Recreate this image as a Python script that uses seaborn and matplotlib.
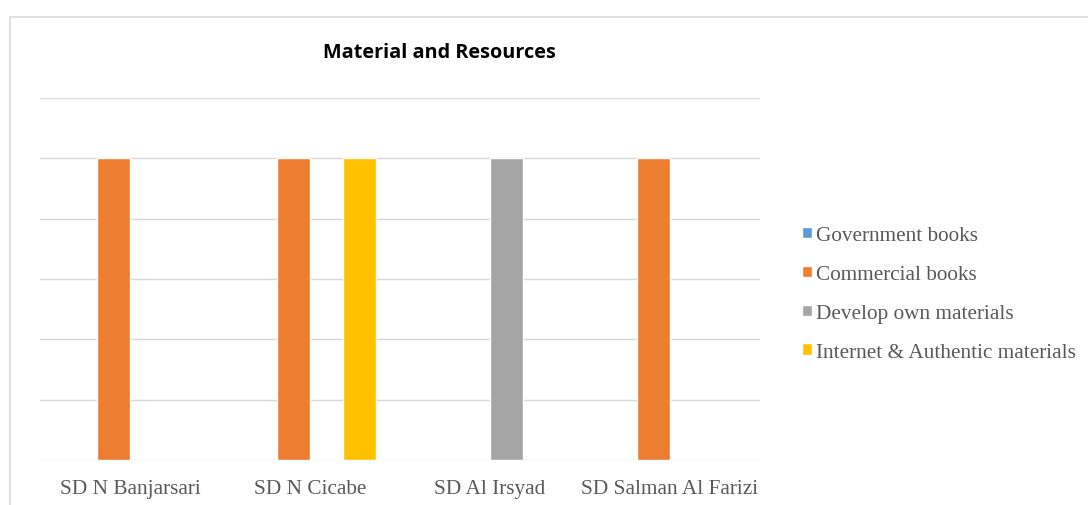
import matplotlib
matplotlib.use("Agg")
import matplotlib.pyplot as plt
import seaborn as sns
import pandas as pd
from matplotlib.patches import Rectangle

schools = ["SD N Banjarsari", "SD N Cicabe", "SD Al Irsyad", "SD Salman Al Farizi"]
series = ["Government books", "Commercial books", "Develop own materials", "Internet & Authentic materials"]
government_books = [0, 0, 0, 0]
commercial_books = [1, 1, 0, 1]
develop_own = [0, 0, 1, 0]
internet_authentic = [0, 1, 0, 0]
colors = ["#5B9BD5", "#ED7D31", "#A5A5A5", "#FFC000"]

rows = []
for name, vals in zip(series, [government_books, commercial_books, develop_own, internet_authentic]):
    for s, v in zip(schools, vals):
        rows.append({"School": s, "Material": name, "Value": v})
df = pd.DataFrame(rows)

sns.set_style("white")
fig = plt.figure(figsize=(10.88, 5.06), dpi=100)
ax = fig.add_axes([40/1088, 1-461/506, 720/1088, 362/506])

sns.barplot(data=df, x="School", y="Value", hue="Material", hue_order=series,
            palette=colors, width=0.733, ax=ax, legend=True, saturation=1)

ax.set_ylim(0, 1.2)
ax.set_xlim(-0.5, 3.5)
ax.set_yticks([0, 0.2, 0.4, 0.6, 0.8, 1.0, 1.2])
ax.set_yticklabels([])
ax.tick_params(axis="y", length=0)
ax.tick_params(axis="x", length=0, pad=14)
ax.yaxis.grid(True, color="#D9D9D9", linewidth=1)
ax.set_axisbelow(True)
for sp in ax.spines.values():
    sp.set_visible(False)
ax.set_xlabel("")
ax.set_ylabel("")
for lbl in ax.get_xticklabels():
    lbl.set_fontfamily("Liberation Serif")
    lbl.set_fontsize(15.3)
    lbl.set_color("#595959")

handles, labels = ax.get_legend_handles_labels()
ax.legend_.remove()
fig.legend(handles, labels, loc="center left", bbox_to_anchor=(802/1088, 1-295/506),
           frameon=False, prop={"family": "Liberation Serif", "size": 15.3},
           labelcolor="#595959", handlelength=0.45, handleheight=0.45,
           handletextpad=0.2, labelspacing=0.93, borderaxespad=0, borderpad=0)

fig.text(439/1088, 1-53/506, "Material and Resources", ha="center", va="center",
         fontsize=14.3, fontweight="bold", family="Open Sans", color="black")

fig.add_artist(Rectangle((9.5/1088, -0.5), 2, (1-17.5/506)+0.5, transform=fig.transFigure,
                         fill=False, edgecolor="#D9D9D9", linewidth=1.2))

fig.savefig("out.png", dpi=100)
